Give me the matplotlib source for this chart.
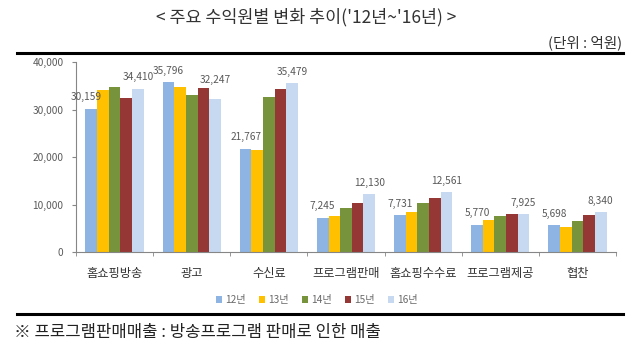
import matplotlib
matplotlib.use("Agg")
import matplotlib.pyplot as plt
import numpy as np
from matplotlib.patches import Patch
from matplotlib.lines import Line2D

plt.rcParams['font.family'] = ['Noto Sans CJK KR', 'DejaVu Sans']

categories = ['홈쇼핑방송', '광고', '수신료', '프로그램판매', '홈쇼핑수수료', '프로그램제공', '협찬']
years = ['12년', '13년', '14년', '15년', '16년']
v12 = [30159, 35796, 21767, 7245, 7731, 5770, 5698]
v13 = [34100, 34700, 21500, 7550, 8330, 6700, 5300]
v14 = [34700, 33000, 32600, 9300, 10300, 7550, 6560]
v15 = [32400, 34600, 34300, 10240, 11360, 8000, 7770]
v16 = [34410, 32247, 35479, 12130, 12561, 7925, 8340]
series = [v12, v13, v14, v15, v16]
colors = ['#8EB4E3', '#FFC000', '#77933C', '#953735', '#C6D9F1']
yticks = [0, 10000, 20000, 30000, 40000]

fig = plt.figure(figsize=(6.4, 3.5), dpi=100)
ax = fig.add_axes([76/640, 1-252/350, (616-76)/640, (252-62)/350])

x = np.arange(len(categories))
w = 0.151
for i, (vals, c) in enumerate(zip(series, colors)):
    ax.bar(x + (i-2)*w, vals, width=w, color=c, edgecolor='none', zorder=2)

lab_col = '#595959'
for j in range(len(categories)):
    for i in (0, 4):
        v = series[i][j]
        dx = -4 if (j == 0 and i == 0) else 0
        dy = 10 if (j == 1 and i == 4) else 4.5
        ax.annotate(f'{v:,}', (x[j] + (i-2)*w, v), xytext=(dx, dy),
                    textcoords='offset points', ha='center', va='bottom',
                    fontsize=7.3, color=lab_col)

ax.set_xlim(-0.5, len(categories)-0.5)
ax.set_ylim(0, 40000)
ax.set_yticks(yticks)
ax.set_yticklabels([f'{t:,}' for t in yticks], fontsize=7.3, color=lab_col)
ax.set_xticks(x)
ax.set_xticklabels(categories, fontsize=8.8, color='#333333')
ax.tick_params(axis='x', length=0, pad=11)
ax.set_xticks(np.arange(-0.5, len(categories)), minor=True)
ax.tick_params(axis='x', which='minor', length=3, color='#868686', direction='out')
ax.tick_params(axis='y', length=3, color='#868686', direction='out', pad=6)
for s in ('top', 'right'):
    ax.spines[s].set_visible(False)
for s in ('left', 'bottom'):
    ax.spines[s].set_color('#868686')
    ax.spines[s].set_linewidth(0.8)

handles = [Patch(facecolor=c, edgecolor='none') for c in colors]
fig.legend(handles, years, loc='center', bbox_to_anchor=(317/640, 1-300/350),
           ncol=5, frameon=False, fontsize=7.3, handlelength=0.6, handleheight=0.6,
           handletextpad=0.3, columnspacing=1.3, labelcolor='#6a6a6a')

fig.text(306/640, 1-17/350, "< 주요 수익원별 변화 추이('12년~'16년) >", ha='center', va='center',
         fontsize=12.5, color='#333333')
fig.text(622/640, 1-43/350, '(단위 : 억원)', ha='right', va='center', fontsize=10.5, color='#333333')
fig.add_artist(Line2D([17/640, 623/640], [1-52.5/350]*2, color='black', lw=2.2))
fig.add_artist(Line2D([17/640, 623/640], [1-314/350]*2, color='black', lw=2.2))
fig.text(14/640, 1-332/350, '※ 프로그램판매매출 : 방송프로그램 판매로 인한 매출', ha='left', va='center',
         fontsize=12, color='#222222')

fig.savefig('out.png', dpi=100)
